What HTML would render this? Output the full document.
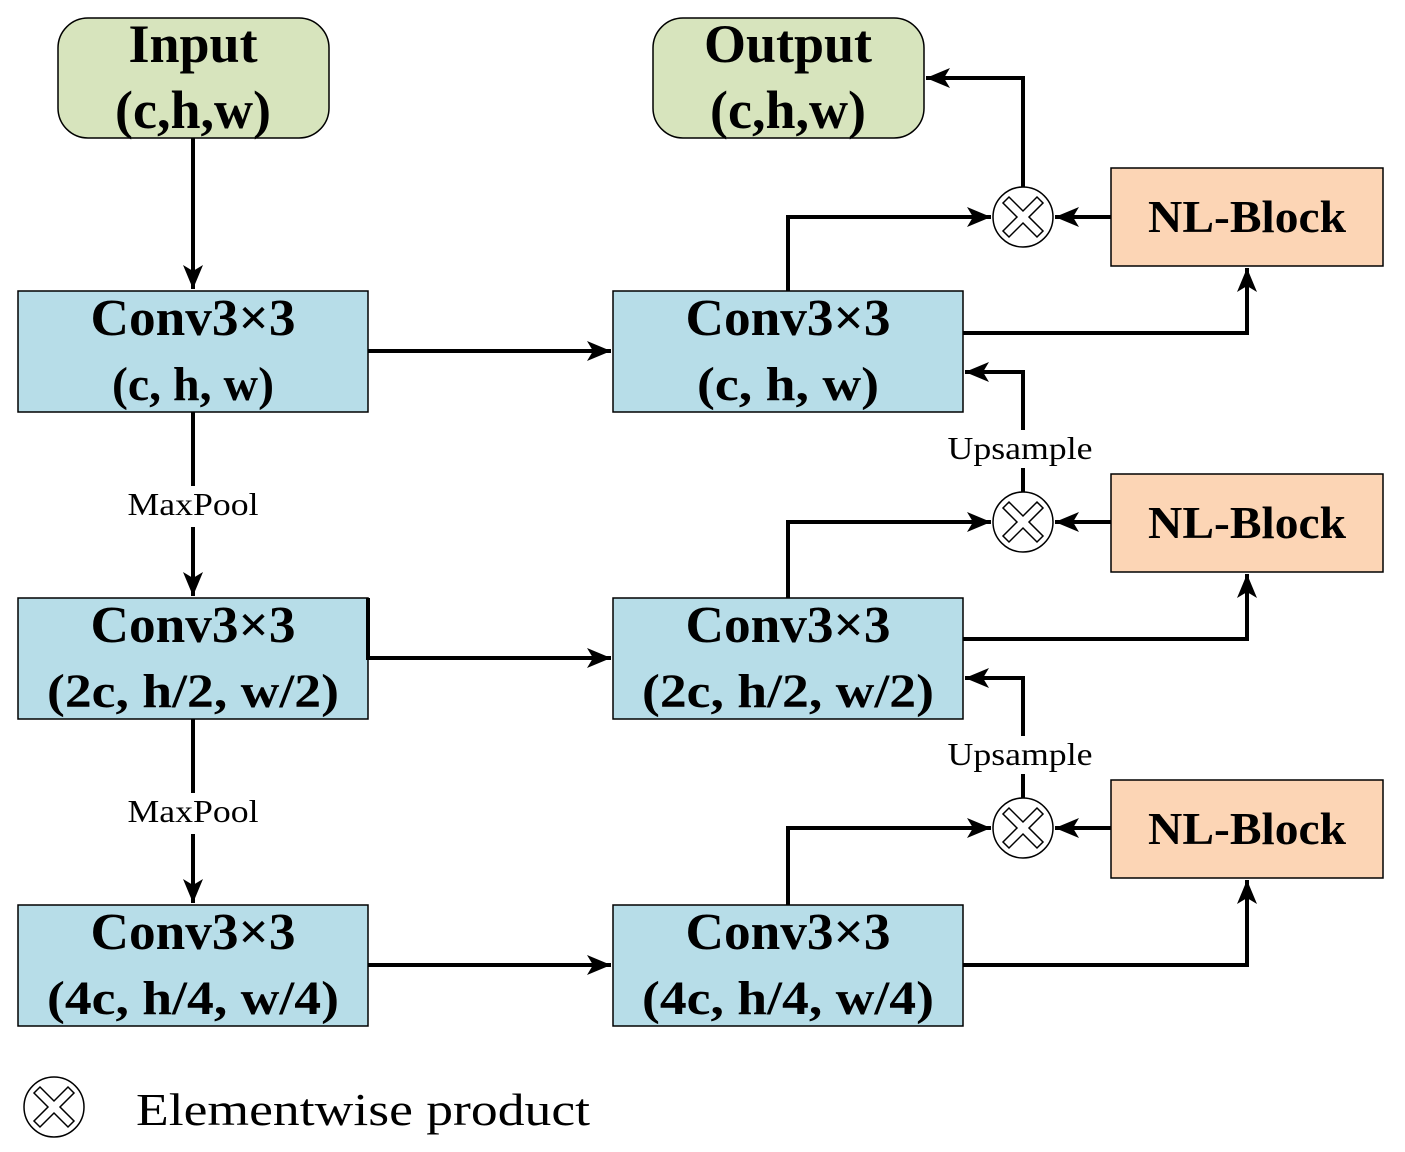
<!DOCTYPE html>
<html><head><meta charset="utf-8"><style>html,body{margin:0;padding:0;background:#fff}svg{display:block}</style></head><body>
<svg width="1405" height="1152" viewBox="0 0 1405 1152" xmlns="http://www.w3.org/2000/svg" font-family="Liberation Serif, serif">
<defs>
<marker id="a" viewBox="0 0 24 20" refX="24" refY="10" markerWidth="24" markerHeight="20" markerUnits="userSpaceOnUse" orient="auto">
<path d="M0,0 L24,10 L0,20 L6,10 Z" fill="#000"/></marker>
<g id="ox">
<circle r="30" fill="#fff" stroke="#000" stroke-width="1.5"/>
<path d="M-6,0 L-20,-14 L-14,-20 L0,-6 L14,-20 L20,-14 L6,0 L20,14 L14,20 L0,6 L-14,20 L-20,14 Z" fill="#fff" stroke="#000" stroke-width="1.5"/>
</g>
</defs>
<g stroke="#000" stroke-width="1.5">
<rect x="58" y="18" width="271" height="120" rx="30" fill="#d7e4bd"/>
<rect x="653" y="18" width="271" height="120" rx="30" fill="#d7e4bd"/>
<rect x="18" y="291" width="350" height="121" fill="#b7dde8"/>
<rect x="18" y="598" width="350" height="121" fill="#b7dde8"/>
<rect x="18" y="905" width="350" height="121" fill="#b7dde8"/>
<rect x="613" y="291" width="350" height="121" fill="#b7dde8"/>
<rect x="613" y="598" width="350" height="121" fill="#b7dde8"/>
<rect x="613" y="905" width="350" height="121" fill="#b7dde8"/>
<rect x="1111" y="168" width="272" height="98" fill="#fcd5b5"/>
<rect x="1111" y="474" width="272" height="98" fill="#fcd5b5"/>
<rect x="1111" y="780" width="272" height="98" fill="#fcd5b5"/>
</g>
<g stroke="#000" stroke-width="4" fill="none">
<path d="M193,138 V289" marker-end="url(#a)"/>
<path d="M193,412 V486 M193,527 V596" marker-end="url(#a)"/>
<path d="M193,719 V793 M193,834 V903" marker-end="url(#a)"/>
<path d="M368,351 H611" marker-end="url(#a)"/>
<path d="M368,598 V658 H611" marker-end="url(#a)"/>
<path d="M368,965 H611" marker-end="url(#a)"/>
<path d="M788,291 V217 H991" marker-end="url(#a)"/>
<path d="M788,598 V522 H991" marker-end="url(#a)"/>
<path d="M788,905 V828 H991" marker-end="url(#a)"/>
<path d="M963,333 H1247 V268" marker-end="url(#a)"/>
<path d="M963,639 H1247 V574" marker-end="url(#a)"/>
<path d="M963,965 H1247 V880" marker-end="url(#a)"/>
<path d="M1111,217 H1055" marker-end="url(#a)"/>
<path d="M1111,522 H1055" marker-end="url(#a)"/>
<path d="M1111,828 H1055" marker-end="url(#a)"/>
<path d="M1023,187 V78 H926" marker-end="url(#a)"/>
<path d="M1023,492 V468 M1023,430 V372 H965" marker-end="url(#a)"/>
<path d="M1023,798 V774 M1023,736 V678 H965" marker-end="url(#a)"/>
</g>
<use href="#ox" x="1023" y="217"/>
<use href="#ox" x="1023" y="522"/>
<use href="#ox" x="1023" y="828"/>
<use href="#ox" x="54" y="1107"/>
<g font-weight="bold" text-anchor="middle" fill="#000" lengthAdjust="spacingAndGlyphs">
<text x="193" y="62" font-size="54">Input</text>
<text x="193" y="128" font-size="54">(c,h,w)</text>
<text x="788" y="62" font-size="54">Output</text>
<text x="788" y="128" font-size="54">(c,h,w)</text>
<g font-size="52">
<text x="193" y="335" textLength="205" lengthAdjust="spacingAndGlyphs">Conv3×3</text><text x="193" y="642" textLength="205" lengthAdjust="spacingAndGlyphs">Conv3×3</text><text x="193" y="949" textLength="205" lengthAdjust="spacingAndGlyphs">Conv3×3</text>
<text x="788" y="335" textLength="205" lengthAdjust="spacingAndGlyphs">Conv3×3</text><text x="788" y="642" textLength="205" lengthAdjust="spacingAndGlyphs">Conv3×3</text><text x="788" y="949" textLength="205" lengthAdjust="spacingAndGlyphs">Conv3×3</text>
</g>
<g font-size="48">
<text x="193" y="400" textLength="162" lengthAdjust="spacingAndGlyphs">(c, h, w)</text><text x="193" y="707" textLength="292" lengthAdjust="spacingAndGlyphs">(2c, h/2, w/2)</text><text x="193" y="1014" textLength="292" lengthAdjust="spacingAndGlyphs">(4c, h/4, w/4)</text>
<text x="788" y="400" textLength="182" lengthAdjust="spacingAndGlyphs">(c, h, w)</text><text x="788" y="707" textLength="292" lengthAdjust="spacingAndGlyphs">(2c, h/2, w/2)</text><text x="788" y="1014" textLength="292" lengthAdjust="spacingAndGlyphs">(4c, h/4, w/4)</text>
</g>
<g font-size="46">
<text x="1247" y="232" textLength="198" lengthAdjust="spacingAndGlyphs">NL-Block</text><text x="1247" y="538" textLength="198" lengthAdjust="spacingAndGlyphs">NL-Block</text><text x="1247" y="844" textLength="198" lengthAdjust="spacingAndGlyphs">NL-Block</text>
</g>
</g>
<g font-size="32" text-anchor="middle" fill="#000">
<text x="193" y="515" textLength="131" lengthAdjust="spacingAndGlyphs">MaxPool</text>
<text x="193" y="822" textLength="131" lengthAdjust="spacingAndGlyphs">MaxPool</text>
<text x="1020" y="459" textLength="145" lengthAdjust="spacingAndGlyphs">Upsample</text>
<text x="1020" y="765" textLength="145" lengthAdjust="spacingAndGlyphs">Upsample</text>
</g>
<text x="136" y="1125" font-size="46" fill="#000" textLength="454" lengthAdjust="spacingAndGlyphs">Elementwise product</text>
</svg>
</body></html>
